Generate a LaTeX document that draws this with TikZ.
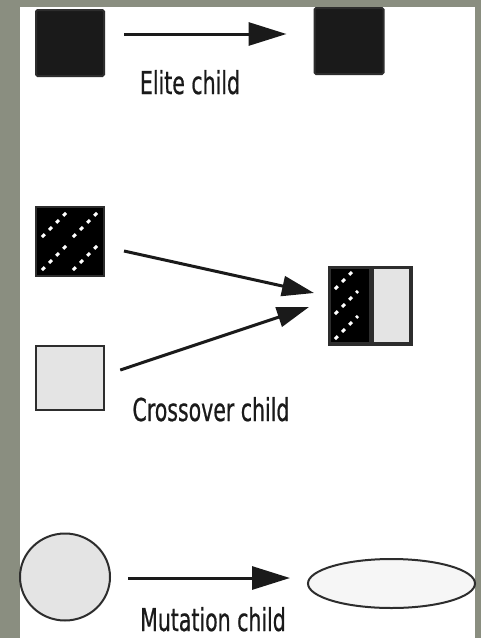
\documentclass[tikz,border=0pt]{standalone}
\usepackage{fontspec}
\newfontfamily\condfont[FakeStretch=0.65,FakeBold=0.6]{DejaVu Sans}
\usetikzlibrary{arrows.meta,shapes.geometric}
\definecolor{bggray}{RGB}{138,142,128}
\definecolor{boxdark}{RGB}{26,26,26}
\definecolor{lightfill}{RGB}{228,228,228}
\definecolor{ellfill}{RGB}{246,246,246}
\definecolor{edge}{RGB}{45,45,45}
\tikzset{
  darkbox/.style={draw=edge, line width=2pt, fill=boxdark, rounded corners=1.5pt, inner sep=0pt},
  lightbox/.style={draw=edge, line width=2.5pt, fill=lightfill, inner sep=0pt},
  speckbox/.style={draw=edge, line width=2pt, fill=black, inner sep=0pt},
  specks/.style={white, line width=3pt, dash pattern=on 4pt off 6pt},
  conn/.style={line width=3pt, draw=boxdark, -{Triangle[length=38pt,width=23pt]}},
  connsmall/.style={line width=3pt, draw=boxdark, -{Triangle[length=32pt,width=20pt]}},
  lbl/.style={font=\condfont\fontsize{31.5}{34}\selectfont, text=boxdark, anchor=base, inner sep=0pt}
}
\begin{document}
\begin{tikzpicture}[x=1pt,y=-1pt]
\useasboundingbox (0,0) rectangle (481,638);
\clip (0,0) rectangle (481,638);
\fill[bggray] (0,0) rectangle (481,638);
\fill[white] (20,7) rectangle (475,638);

% Elite
\node[darkbox, minimum width=68pt, minimum height=66pt] (eL) at (70,43) {};
\node[darkbox, minimum width=69pt, minimum height=66pt] (eR) at (349,41) {};
\draw[conn] ([xshift=19pt,yshift=9pt]eL.east) -- ([xshift=-27pt,yshift=7pt]eR.west);
\node[lbl] (eT) at (190,94) {Elite child};

% Crossover
\node[speckbox, minimum width=68pt, minimum height=69pt,
  path picture={
    \foreach \dx/\dy in {6/6,37/6,6/39,37/39}
      \draw[specks] ([xshift=\dx pt,yshift=\dy pt]path picture bounding box.south west) -- ++(25pt,25pt);
  }] (P) at (70,241.5) {};
\node[lightbox, minimum width=68pt, minimum height=64pt] (L) at (70,378) {};
\node[speckbox, minimum width=40pt, minimum height=75pt,
  path picture={
    \foreach \dx/\dy in {5/4,5/29,5/54}
      \draw[specks] ([xshift=\dx pt,yshift=\dy pt]path picture bounding box.south west) -- ++(23pt,23pt);
  }] (cL) at (350,305.5) {};
\node[lightbox, minimum width=38pt, minimum height=75pt, anchor=west] (cR) at (cL.east) {};
\draw[edge, line width=2.5pt] (cL.north west) rectangle (cR.south east);
\draw[connsmall] ([xshift=19pt,yshift=-9.5pt]P.east) -- ([xshift=-15pt,yshift=12.5pt]cL.west);
\draw[connsmall] ([xshift=15pt,yshift=8pt]L.east) -- ([xshift=-20pt,yshift=-1.5pt]cL.west);
\node[lbl] (cT) at (211,421) {Crossover child};

% Mutation
\node[draw=edge, line width=2pt, fill=lightfill, ellipse, inner sep=0pt, minimum width=90pt, minimum height=87pt] (M) at (65,577) {};
\node[draw=edge, line width=2pt, fill=ellfill, ellipse, inner sep=0pt, minimum width=167pt, minimum height=49pt] (E) at (391.5,583.5) {};
\draw[conn] ([xshift=17pt,yshift=-1pt]M.east) -- ([xshift=-17pt,yshift=5.5pt]E.west);
\node[lbl] (mT) at (213,631) {Mutation child};
\end{tikzpicture}
\end{document}
